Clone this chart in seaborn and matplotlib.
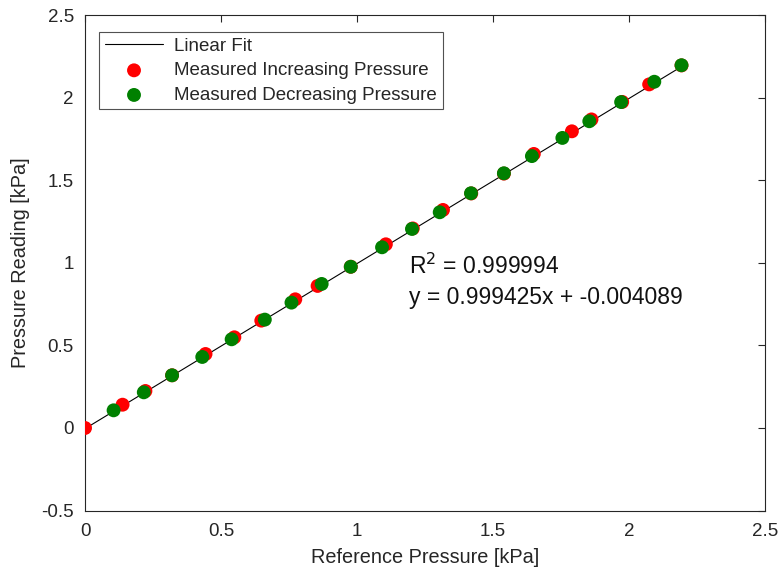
import matplotlib
matplotlib.use("Agg")
import matplotlib.pyplot as plt
import seaborn as sns
import numpy as np
import pandas as pd

# ---- data ----
inc_x = [0.0, 0.138, 0.222, 0.320, 0.443, 0.549, 0.648, 0.773, 0.855, 0.977, 1.106,
         1.205, 1.316, 1.420, 1.540, 1.650, 1.790, 1.862, 1.975, 2.074, 2.193]
inc_y = [0.0, 0.141, 0.224, 0.319, 0.448, 0.549, 0.650, 0.779, 0.860, 0.976, 1.112,
         1.208, 1.320, 1.420, 1.540, 1.659, 1.796, 1.868, 1.974, 2.080, 2.195]
dec_x = [0.105, 0.216, 0.320, 0.431, 0.539, 0.661, 0.759, 0.870, 0.977, 1.092,
         1.202, 1.304, 1.419, 1.540, 1.643, 1.755, 1.854, 1.971, 2.093, 2.193]
dec_y = [0.107, 0.216, 0.319, 0.430, 0.537, 0.656, 0.759, 0.872, 0.976, 1.094,
         1.205, 1.306, 1.421, 1.542, 1.646, 1.756, 1.857, 1.973, 2.096, 2.196]
fit_slope = 0.999425
fit_intercept = -0.004089
r_squared = 0.999994
fit_x = [0.0, 2.2]
x_ticks = [0, 0.5, 1, 1.5, 2, 2.5]
y_ticks = [-0.5, 0, 0.5, 1, 1.5, 2, 2.5]

sns.set_style("white")
plt.rcParams['font.family'] = ['Liberation Sans', 'DejaVu Sans']

fig = plt.figure(figsize=(7.78, 5.71), dpi=100)
ax = fig.add_axes([0.1093, 0.1058, 0.8740, 0.8679])

fit_df = pd.DataFrame({"x": fit_x,
                       "y": [fit_slope * v + fit_intercept for v in fit_x]})
inc_df = pd.DataFrame({"x": inc_x, "y": inc_y})
dec_df = pd.DataFrame({"x": dec_x, "y": dec_y})

sns.lineplot(data=fit_df, x="x", y="y", ax=ax, color="black", linewidth=0.8,
             label="Linear Fit", zorder=2)
sns.scatterplot(data=inc_df, x="x", y="y", ax=ax, color="#ff0000", s=100,
                edgecolor="none", label="Measured Increasing Pressure", zorder=3)
sns.scatterplot(data=dec_df, x="x", y="y", ax=ax, color="#008000", s=100,
                edgecolor="none", label="Measured Decreasing Pressure", zorder=4)

ax.set_xlim(0, 2.5)
ax.set_ylim(-0.5, 2.5)
ax.set_xticks(x_ticks)
ax.set_yticks(y_ticks)
ax.set_xticklabels([f"{t:g}" for t in x_ticks])
ax.set_yticklabels([f"{t:g}" for t in y_ticks])

for sp in ax.spines.values():
    sp.set_visible(True)
    sp.set_color("#262626")
    sp.set_linewidth(0.8)
ax.tick_params(direction="in", top=True, right=True, length=5, width=0.8,
               color="#262626", labelsize=13.5, labelcolor="#262626")
ax.tick_params(axis="x", pad=9)
ax.tick_params(axis="y", pad=8)

ax.set_xlabel("Reference Pressure [kPa]", fontsize=14.3, color="#262626", labelpad=6)
ax.set_ylabel("Pressure Reading [kPa]", fontsize=14.3, color="#262626", labelpad=8)

ax.text(1.19, 0.931, f"R$^2$ = {r_squared:.6f}", fontsize=16.5, va="baseline",
        ha="left", color="#111111")
ax.text(1.19, 0.749, f"y = {fit_slope:.6f}x + {fit_intercept:.6f}", fontsize=16.5,
        va="baseline", ha="left", color="#111111")

leg = ax.legend(loc="upper left", bbox_to_anchor=(0.021, 0.966), fontsize=13.5,
                frameon=True, fancybox=False, edgecolor="#262626",
                handlelength=3.1, handletextpad=0.6, borderpad=0.3,
                labelspacing=0.4, borderaxespad=0.0)
leg.get_frame().set_linewidth(0.8)

fig.savefig("out.png", dpi=100)
